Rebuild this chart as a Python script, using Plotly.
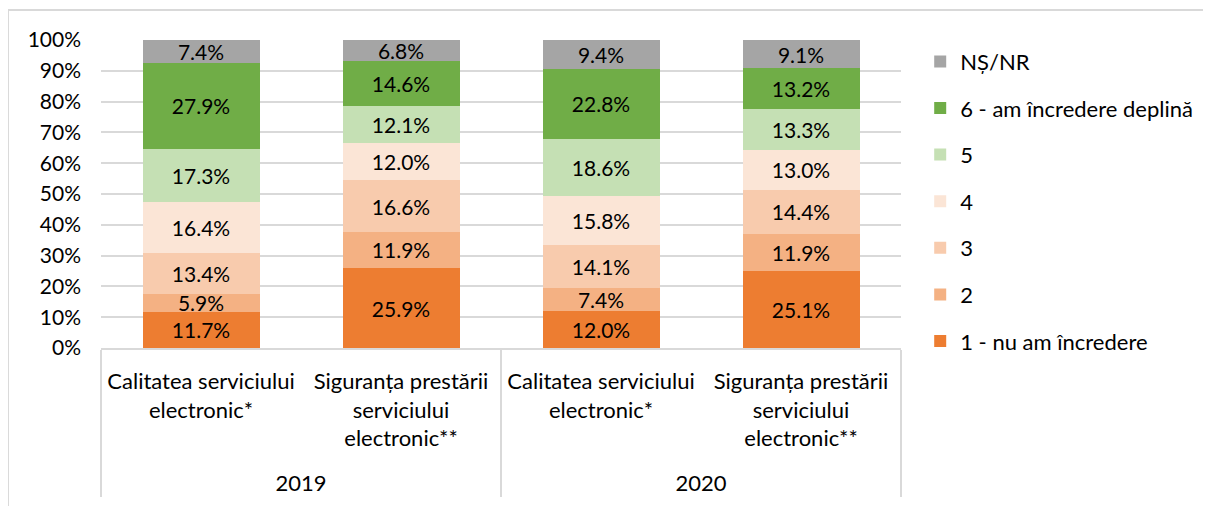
import plotly.graph_objects as go

years = ["2019", "2019", "2020", "2020"]
items = ["Calitatea serviciului<br>electronic*",
         "Siguranța prestării<br>serviciului<br>electronic**",
         "Calitatea serviciului<br>electronic*",
         "Siguranța prestării<br>serviciului<br>electronic**"]

series = ["1 - nu am încredere", "2", "3", "4", "5", "6 - am încredere deplină", "NȘ/NR"]
v1 = [11.7, 25.9, 12.0, 25.1]
v2 = [5.9, 11.9, 7.4, 11.9]
v3 = [13.4, 16.6, 14.1, 14.4]
v4 = [16.4, 12.0, 15.8, 13.0]
v5 = [17.3, 12.1, 18.6, 13.3]
v6 = [27.9, 14.6, 22.8, 13.2]
vns = [7.4, 6.8, 9.4, 9.1]
values = [v1, v2, v3, v4, v5, v6, vns]
colors = ["#ed7d31", "#f4b183", "#f8cbad", "#fbe5d6", "#c5e0b4", "#70ad47", "#a5a5a5"]

FONT = "Lato, Carlito, Calibri, sans-serif"

# extra blank line so the year row sits lower, like in the original
labels = [s + "<br> " for s in items]

fig = go.Figure()
for i, (name, vals, col) in enumerate(zip(series, values, colors)):
    fig.add_trace(go.Bar(
        x=[years, labels], y=vals, name=name, legendgroup=name,
        legendrank=100 - i,
        marker=dict(color=col, line=dict(width=0)),
        width=0.585,
        text=[f"{v:.1f}%" for v in vals], textposition="inside",
        insidetextanchor="middle", textangle=0,
        textfont=dict(family=FONT, size=21, color="black"),
        hoverinfo="skip",
    ))

# page body has an 8px margin, so the figure is 8px smaller each way
fig.update_layout(
    barmode="stack",
    width=1203, height=498,
    margin=dict(l=93, r=310, t=32, b=158, autoexpand=False),
    paper_bgcolor="white", plot_bgcolor="white",
    font=dict(family=FONT, size=21, color="black"),
    uniformtext=dict(minsize=21, mode="show"),
    legend=dict(x=1.024, y=0.998, xanchor="left", yanchor="top",
                traceorder="grouped", tracegroupgap=15, maxheight=480,
                font=dict(family=FONT, size=22, color="black")),
    showlegend=True,
)
fig.update_yaxes(range=[0, 100], dtick=10, ticksuffix="%", showgrid=True,
                 gridcolor="#d9d9d9", gridwidth=1.5, zeroline=False,
                 showline=False, ticks="", ticklabelstandoff=19,
                 automargin=False, tickfont=dict(size=21))
fig.update_xaxes(type="multicategory", showline=True, linecolor="#d9d9d9",
                 linewidth=1.5, showdividers=True, dividercolor="#d9d9d9",
                 dividerwidth=1.5, ticks="", tickfont=dict(size=22),
                 ticklabelstandoff=13, automargin=False)

# outer chart frame
fig.add_shape(type="line", xref="paper", yref="paper", x0=-0.1163, x1=1.39,
              y0=1.097, y1=1.097, line=dict(color="#d9d9d9", width=2))
fig.add_shape(type="line", xref="paper", yref="paper", x0=-0.1163, x1=-0.1163,
              y0=1.097, y1=-0.52, line=dict(color="#d9d9d9", width=2))

fig.write_html("out.html")
